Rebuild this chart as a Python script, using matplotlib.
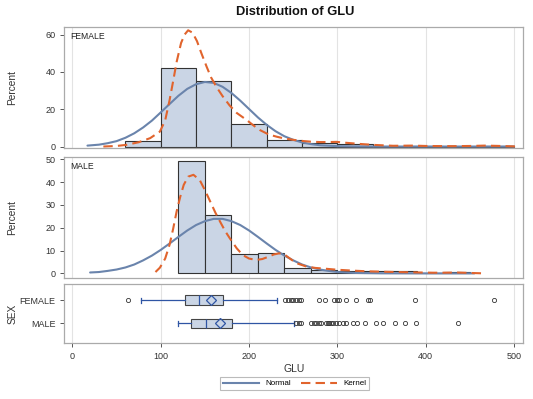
import matplotlib
matplotlib.use("Agg")
import matplotlib.pyplot as plt
from matplotlib.lines import Line2D

plt.rcParams['font.family'] = ['Liberation Sans', 'DejaVu Sans']

# ---- histogram data (percent per bin) ----
female_edges = [60, 100, 140, 180, 220, 260, 300, 340, 380, 420, 460, 500]
female_pct = [2.7, 42.2, 35.3, 12.0, 3.6, 1.8, 1.3, 0.0, 0.5, 0.0, 0.5]
male_edges = [120, 150, 180, 210, 240, 270, 300, 330, 360, 390, 420, 450]
male_pct = [49.3, 25.4, 8.6, 9.0, 2.5, 1.5, 1.2, 0.9, 0.9, 0.0, 0.4]

# ---- fitted curves ----
female_norm_x = [17, 30, 40, 50, 60, 70, 80, 90, 100, 110, 120, 130, 140, 150, 160, 170,
                 180, 190, 200, 210, 220, 230, 240, 250, 260, 270, 280, 300, 320, 350, 400, 450, 500]
female_norm_y = [0.5, 1.0, 1.8, 2.9, 4.7, 7.1, 10.2, 13.9, 18.3, 22.8, 27.2, 30.9, 33.4, 34.6, 34.1, 32.0,
                 28.7, 24.6, 20.1, 15.6, 11.6, 8.2, 5.5, 3.6, 2.2, 1.3, 0.7, 0.2, 0.05, 0.0, 0.0, 0.0, 0.0]
female_kern_x = [35, 50, 61, 75, 88, 99, 105, 110, 114, 118, 123, 127, 131, 136, 141, 146, 152, 157,
                 163, 170, 178, 186, 197, 205, 212, 222, 231, 240, 250, 260, 270, 280, 290, 299, 310,
                 325, 340, 363, 385, 400, 430, 450, 467, 485, 505]
female_kern_y = [0.0, 0.3, 0.9, 2.3, 4.5, 8.0, 14.0, 24.9, 35.0, 45.4, 55.5, 60.0, 62.3, 61.0, 56.5, 50.0, 42.7, 37.0,
                 32.0, 27.0, 22.0, 18.0, 14.3, 11.3, 8.9, 6.5, 5.3, 4.3, 3.6, 3.0, 2.6, 2.4, 2.4, 2.5, 2.0,
                 1.4, 0.9, 0.4, 0.5, 0.3, 0.2, 0.3, 0.5, 0.3, 0.0]

male_norm_x = [20, 30, 40, 50, 60, 70, 80, 90, 100, 110, 120, 130, 140, 150, 160, 170, 180, 190,
               200, 210, 220, 230, 240, 250, 260, 270, 280, 290, 300, 320, 350, 400, 455]
male_norm_y = [0.4, 0.6, 1.1, 1.7, 2.6, 3.9, 5.7, 7.8, 10.3, 13.1, 16.0, 18.8, 21.2, 22.9, 23.9, 23.9, 22.9, 21.2,
               18.8, 16.0, 13.1, 10.3, 7.8, 5.7, 3.9, 2.6, 1.7, 1.1, 0.6, 0.2, 0.05, 0.0, 0.0]
male_kern_x = [94, 99, 105, 110, 114, 118, 122, 126, 131, 137, 144, 150, 156, 162, 167, 173, 178, 186,
               193, 200, 208, 215, 222, 228, 234, 240, 247, 253, 258, 265, 275, 288, 300, 318, 335, 356,
               380, 408, 420, 435, 450, 467]
male_kern_y = [0.6, 2.5, 6.5, 12.6, 19.5, 27.2, 33.5, 38.8, 42.4, 43.2, 41.0, 36.5, 31.5, 26.5, 22.8, 18.5, 15.5, 11.0,
               8.0, 6.5, 5.9, 6.3, 7.3, 8.3, 8.8, 8.3, 6.3, 4.6, 3.9, 3.0, 2.4, 2.0, 1.6, 1.2, 0.9, 0.7,
               0.5, 0.3, 0.3, 0.4, 0.2, 0.0]

# ---- box plot summary ----
sex_labels = ["FEMALE", "MALE"]
box_q1 = [128, 134]
box_med = [143, 151]
box_q3 = [170, 181]
box_mean = [157, 167]
box_lo = [78, 120]
box_hi = [232, 251]
female_fliers = [63, 241, 244, 247, 250, 253, 256, 259, 279, 286, 296, 299, 302, 310, 321, 335, 337, 388, 477]
male_fliers = [253, 256, 259, 270, 273, 276, 279, 281, 287, 289, 291, 293, 295, 298, 302, 306, 310,
               318, 322, 331, 344, 352, 365, 377, 389, 437]

BAR = '#CAD5E5'
NORM = '#6A84AC'
KERN = '#E1642D'
WBLUE = '#2F55A4'
GRID = '#E3E3E3'
FRAME = '#AAAAAA'

fig = plt.figure(figsize=(5.33, 3.99), dpi=100)
ax_f = fig.add_axes([0.121, 0.629, 0.860, 0.304])
ax_m = fig.add_axes([0.121, 0.3045, 0.860, 0.3025])
ax_b = fig.add_axes([0.121, 0.141, 0.860, 0.147])

xlim = (-9, 510)


def style(ax):
    for s in ax.spines.values():
        s.set_color(FRAME)
        s.set_linewidth(0.9)
    ax.set_xlim(*xlim)
    ax.set_xticks([0, 100, 200, 300, 400, 500])
    ax.grid(axis='x', color=GRID, linewidth=0.8)
    ax.set_axisbelow(True)
    ax.tick_params(colors='#555555', labelcolor='#333333', labelsize=6.5, width=0.7, length=3)


panels = [
    (ax_f, "FEMALE", female_edges, female_pct, female_norm_x, female_norm_y, female_kern_x, female_kern_y,
     (-0.8, 64.2), [0, 20, 40, 60]),
    (ax_m, "MALE", male_edges, male_pct, male_norm_x, male_norm_y, male_kern_x, male_kern_y,
     (-1.8, 51.1), [0, 10, 20, 30, 40, 50]),
]
for ax, name, edges, pct, nx, ny, kx, ky, ylim, yt in panels:
    style(ax)
    widths = [edges[i + 1] - edges[i] for i in range(len(pct))]
    ax.bar(edges[:-1], pct, width=widths, align='edge', color=BAR, edgecolor='#333333', linewidth=0.8)
    ax.plot(nx, ny, color=NORM, linewidth=1.5, solid_capstyle='round')
    ax.plot(kx, ky, color=KERN, linewidth=1.5, dashes=(4.5, 2.5))
    ax.set_ylim(*ylim)
    ax.set_yticks(yt)
    ax.tick_params(axis='x', bottom=False, labelbottom=False)
    ax.set_ylabel("Percent", fontsize=7.3, color='#333333', labelpad=8)
    ax.text(0.012, 0.955, name, transform=ax.transAxes, fontsize=6.2, va='top', ha='left', color='#222222')

ax_f.yaxis.set_label_coords(-0.103, 0.5)
ax_m.yaxis.set_label_coords(-0.103, 0.5)

# box plot
style(ax_b)
stats = []
for i, fl in enumerate([female_fliers, male_fliers]):
    stats.append(dict(q1=box_q1[i], med=box_med[i], q3=box_q3[i], mean=box_mean[i],
                      whislo=box_lo[i], whishi=box_hi[i], fliers=fl))
ax_b.bxp(stats, positions=[1, 0], orientation='horizontal', widths=0.42, patch_artist=True,
         showmeans=True, showcaps=True,
         boxprops=dict(facecolor=BAR, edgecolor='#444444', linewidth=0.8),
         medianprops=dict(color=WBLUE, linewidth=0.9),
         whiskerprops=dict(color=WBLUE, linewidth=0.9),
         capprops=dict(color=WBLUE, linewidth=0.9),
         capwidths=0.2,
         meanprops=dict(marker='D', markerfacecolor='none', markeredgecolor=WBLUE, markersize=5,
                        markeredgewidth=0.9),
         flierprops=dict(marker='o', markerfacecolor='none', markeredgecolor='#333333', markersize=3,
                         markeredgewidth=0.6))
ax_b.set_ylim(-0.83, 1.70)
ax_b.set_yticks([1, 0])
ax_b.set_yticklabels(sex_labels)
ax_b.set_xlim(*xlim)
ax_b.set_ylabel("SEX", fontsize=7.3, color='#333333')
ax_b.yaxis.set_label_coords(-0.103, 0.5)
ax_b.set_xlabel("GLU", fontsize=7.5, color='#333333', labelpad=2)

fig.suptitle("Distribution of GLU", x=0.553, y=0.985, fontsize=9.3, fontweight='bold', color='#111111')

handles = [Line2D([], [], color=NORM, linewidth=1.5),
           Line2D([], [], color=KERN, linewidth=1.5, dashes=(4.5, 2.5))]
leg = fig.legend(handles, ["Normal", "Kernel"], loc='lower center', bbox_to_anchor=(0.553, 0.012),
                 ncol=2, fontsize=5.8, frameon=True, fancybox=False, handlelength=4.5,
                 columnspacing=1.2, borderpad=0.35, handletextpad=0.8)
leg.get_frame().set_edgecolor(FRAME)
leg.get_frame().set_linewidth(0.8)

fig.savefig("out.png", dpi=100)
